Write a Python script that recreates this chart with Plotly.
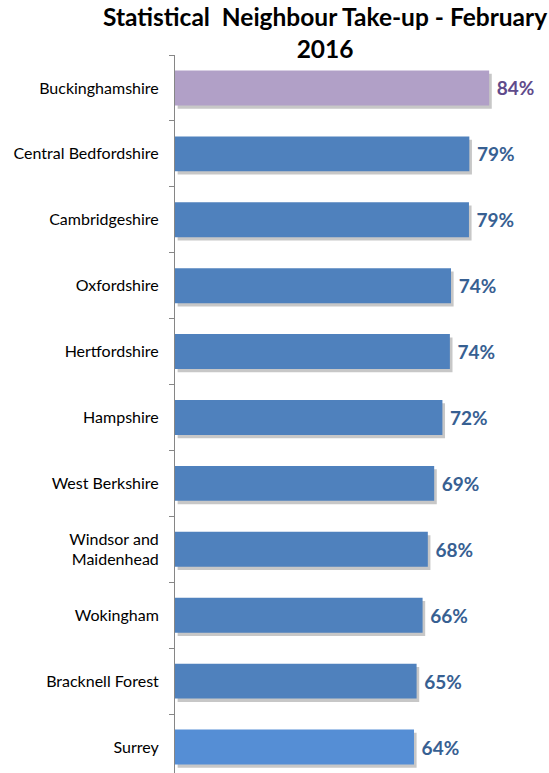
import plotly.graph_objects as go

categories = ["Buckinghamshire", "Central Bedfordshire", "Cambridgeshire", "Oxfordshire",
              "Hertfordshire", "Hampshire", "West Berkshire", "Windsor and<br>Maidenhead",
              "Wokingham", "Bracknell Forest", "Surrey"]
values = [84.0, 78.7, 78.6, 73.8, 73.5, 71.5, 69.3, 67.6, 66.2, 64.6, 63.9]
bar_colors = ["#B1A0C7"] + ["#4F81BD"] * 9 + ["#558ED5"]
label_colors = ["#5F4B8B"] + ["#376092"] * 10
title_text = "Statistical  Neighbour Take-up - February<br>2016"

cats = categories[::-1]
vals = values[::-1]
bcols = bar_colors[::-1]
lcols = label_colors[::-1]

fig = go.Figure()
# subtle shadow
fig.add_trace(go.Bar(
    y=cats, x=vals, orientation="h", width=0.53, offset=-0.265 - 0.05,
    marker=dict(color="rgba(0,0,0,0.22)", line=dict(width=0)),
    hoverinfo="skip", showlegend=False, base=[0.7] * len(vals),
))
fig.add_trace(go.Bar(
    y=cats, x=vals, orientation="h", width=0.53, offset=-0.265,
    marker=dict(color=bcols, line=dict(width=0)),
    text=[f" {v:.0f}%" for v in vals], textposition="outside",
    textfont=dict(family="Lato", size=19, color=lcols, weight="bold"),
    cliponaxis=False, showlegend=False,
))

fig.add_annotation(
    text="<b>" + title_text + "</b>", xref="paper", yref="paper",
    x=(325 - 175) / 374, y=1 + 55 / 718, xanchor="center", yanchor="top",
    showarrow=False, align="center",
    font=dict(family="Lato", size=24.5, color="black"),
)

fig.update_layout(
    width=549, height=773,
    margin=dict(l=175, r=0, t=55, b=0, autoexpand=False),
    plot_bgcolor="white", paper_bgcolor="white",
    barmode="overlay",
    xaxis=dict(range=[0, 100], visible=False, automargin=False),
    yaxis=dict(range=[-0.394, 10.5], showline=True, linecolor="#868686", linewidth=1,
               ticks="outside", ticklen=5, tickcolor="#868686", tickson="boundaries",
               ticklabelstandoff=12, automargin=False,
               tickfont=dict(family="Lato", size=16, color="black"),
               showgrid=False, zeroline=False),
)
fig.write_html("out.html", config={"displayModeBar": False},
               post_script="document.body.style.margin='0';document.body.style.overflow='hidden';")
